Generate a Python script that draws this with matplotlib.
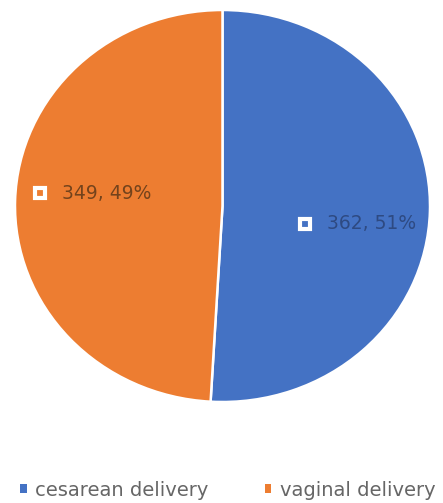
import matplotlib
matplotlib.use("Agg")
import numpy as np
import matplotlib.pyplot as plt
from matplotlib.patches import Patch
from matplotlib.transforms import ScaledTranslation

# data
categories = ["cesarean delivery", "vaginal delivery"]
counts = [362, 349]
colors = ["#4472C4", "#ED7D31"]
label_colors = ["#2E4A82", "#74431C"]

plt.rcParams["font.family"] = ["DejaVu Sans"]

fig = plt.figure(figsize=(4.43, 5.03), dpi=100)
W, H = 443, 503
# pie occupies x 15..430, y 10..402 (pixels, from top) -> slightly stretched
ax = fig.add_axes([15 / W, (H - 402) / H, 415 / W, 392 / H])

wedges, _ = ax.pie(counts, colors=colors, startangle=90, counterclock=False,
                   wedgeprops=dict(edgecolor="white", linewidth=1.8))
ax.set_aspect("auto")
ax.set_xlim(-1, 1)
ax.set_ylim(-1, 1)

total = sum(counts)
for w, n, fc, tc in zip(wedges, counts, colors, label_colors):
    mid = np.deg2rad((w.theta1 + w.theta2) / 2)
    right = np.cos(mid) > 0
    x = 0.64 * np.cos(mid)
    y = 0.64 * np.sin(mid) + (-0.072 if right else 0.046)
    # legend-key style square inside the data label
    ax.plot([x], [y], marker="s", markersize=7.5, markerfacecolor=fc,
            markeredgecolor="white", markeredgewidth=3,
            transform=ax.transData + ScaledTranslation(-36 / 72, 0, fig.dpi_scale_trans))
    ax.annotate(f"{n}, {round(100 * n / total)}%", xy=(x, y),
                xytext=(-20, 0), textcoords="offset points",
                ha="left", va="center", fontsize=13.5, color=tc)

handles = [Patch(facecolor=c, edgecolor="none") for c in colors]
fig.legend(handles, categories, loc="center",
           bbox_to_anchor=(228 / W, (H - 490) / H),
           ncol=2, frameon=False, fontsize=14, labelcolor="#666666",
           handlelength=0.32, handleheight=0.32, handletextpad=0.45,
           columnspacing=2.9, borderpad=0.1)

fig.savefig("out.png", dpi=100)
